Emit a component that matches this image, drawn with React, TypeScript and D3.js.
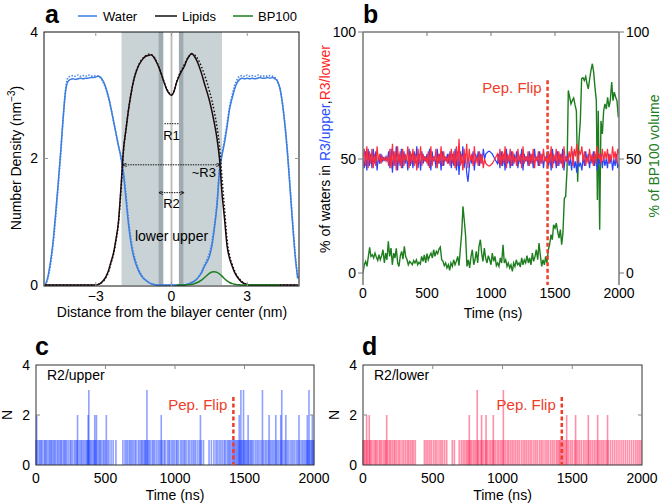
import React from 'react';
import * as d3 from 'd3';

const FONT = '"Liberation Sans", Arial, Helvetica, sans-serif';

// ---------------- Panel a: density profiles ----------------
const distanceNm = d3.range(-50, 51).map((i) => i / 10);
const waterSolid = [
  0.0, 0.12, 0.35, 0.65, 1.08, 1.55, 2.05, 2.6, 3.05, 3.22,
  3.25, 3.26, 3.25, 3.26, 3.27, 3.26, 3.27, 3.27, 3.28, 3.28,
  3.29, 3.3, 3.28, 3.22, 3.12, 2.98, 2.8, 2.6, 2.4, 2.2,
  2.02, 1.75, 1.35, 0.95, 0.65, 0.45, 0.32, 0.22, 0.15, 0.1,
  0.07, 0.04, 0.02, 0.01, 0,
  0, 0, 0, 0, 0, 0, 0, 0, 0, 0, 0,
  0.01, 0.02, 0.04, 0.06, 0.09, 0.14, 0.2, 0.29, 0.36, 0.45,
  0.62, 0.9, 1.25, 1.8, 2.05, 2.25, 2.5, 2.78, 2.95, 3.1,
  3.2, 3.25, 3.27, 3.26, 3.27, 3.26, 3.27, 3.26, 3.27, 3.28,
  3.27, 3.27, 3.28, 3.27, 3.28, 3.26, 3.22, 3.1, 2.85, 2.5,
  2.05, 1.5, 0.95, 0.45, 0.1,
];
const waterDotted = [
  0.0, 0.1, 0.3, 0.6, 1.02, 1.5, 2.0, 2.58, 3.08, 3.28,
  3.3, 3.31, 3.3, 3.32, 3.3, 3.31, 3.3, 3.32, 3.31, 3.3,
  3.31, 3.3, 3.27, 3.2, 3.1, 2.97, 2.8, 2.6, 2.4, 2.2,
  2.0, 1.78, 1.42, 1.02, 0.72, 0.5, 0.36, 0.25, 0.17, 0.11,
  0.07, 0.04, 0.02, 0.01, 0,
  0, 0, 0, 0, 0, 0, 0, 0, 0, 0, 0,
  0.01, 0.02, 0.04, 0.06, 0.1, 0.15, 0.22, 0.31, 0.4, 0.5,
  0.68, 0.95, 1.3, 1.82, 2.08, 2.3, 2.55, 2.82, 3.0, 3.15,
  3.25, 3.3, 3.31, 3.3, 3.32, 3.3, 3.31, 3.3, 3.32, 3.31,
  3.3, 3.31, 3.3, 3.31, 3.3, 3.28, 3.22, 3.1, 2.86, 2.52,
  2.08, 1.55, 1.0, 0.5, 0.12,
];
const lipidSolid = [
  0, 0, 0, 0, 0, 0, 0, 0, 0, 0, 0, 0, 0, 0, 0, 0, 0, 0, 0, 0, 0,
  0.01, 0.03, 0.07, 0.13, 0.22, 0.36, 0.5, 0.72, 1.0, 1.55,
  2.15, 2.47, 2.78, 3.03, 3.23, 3.37, 3.47, 3.54, 3.59, 3.62,
  3.63, 3.64, 3.6, 3.53, 3.44, 3.33, 3.21, 3.1, 3.03, 3.0,
  3.06, 3.2, 3.3, 3.38, 3.45, 3.55, 3.62, 3.66, 3.62, 3.55,
  3.45, 3.33, 3.19, 3.06, 2.92, 2.75, 2.55, 2.32, 2.0, 1.45,
  1.05, 0.62, 0.42, 0.3, 0.2, 0.13, 0.08, 0.04, 0.02, 0.01,
  0, 0, 0, 0, 0, 0, 0, 0, 0, 0, 0, 0, 0, 0, 0, 0, 0, 0, 0, 0,
];
const lipidDotted = [
  0, 0, 0, 0, 0, 0, 0, 0, 0, 0, 0, 0, 0, 0, 0, 0, 0, 0, 0, 0, 0,
  0.01, 0.03, 0.06, 0.12, 0.2, 0.34, 0.48, 0.7, 0.98, 1.5,
  2.12, 2.46, 2.77, 3.03, 3.24, 3.38, 3.48, 3.55, 3.6, 3.63,
  3.65, 3.64, 3.61, 3.54, 3.45, 3.34, 3.22, 3.11, 3.04, 3.01,
  3.07, 3.21, 3.32, 3.4, 3.48, 3.56, 3.62, 3.65, 3.64, 3.6,
  3.53, 3.44, 3.33, 3.21, 3.07, 2.92, 2.73, 2.5, 2.2, 1.7,
  1.2, 0.72, 0.47, 0.33, 0.22, 0.14, 0.09, 0.05, 0.02, 0.01,
  0, 0, 0, 0, 0, 0, 0, 0, 0, 0, 0, 0, 0, 0, 0, 0, 0, 0, 0, 0,
];
const bp100Density = [
  0, 0, 0, 0, 0, 0, 0, 0, 0, 0, 0, 0, 0, 0, 0, 0, 0, 0, 0, 0,
  0, 0, 0, 0, 0, 0, 0, 0, 0, 0, 0, 0, 0, 0, 0, 0, 0, 0, 0, 0,
  0, 0, 0, 0, 0, 0, 0, 0, 0, 0, 0, 0, 0, 0, 0, 0,
  0.003, 0.006, 0.012, 0.02, 0.035, 0.055, 0.08, 0.115, 0.15, 0.185,
  0.205, 0.21, 0.2, 0.175, 0.14, 0.1, 0.065, 0.04, 0.022, 0.012,
  0.006, 0.003,
  0, 0, 0, 0, 0, 0, 0, 0, 0, 0, 0, 0, 0, 0, 0, 0, 0, 0, 0, 0, 0, 0, 0,
];
const densityTicksX = [-3, 0, 3];
const densityTicksY = [0, 2, 4];

// ---------------- Panel b: time series ----------------
const r3Time = d3.range(0, 2001, 10);
const r3Upper = [
  50, 46, 53, 45, 54, 47, 52, 46, 54, 48,
  53, 45, 51, 48, 52, 49, 50.5, 49.5, 51, 49,
  53, 46, 54, 44, 53, 47, 55, 45, 52, 47,
  54, 46, 53, 48, 51, 45, 54, 47, 52, 46,
  53, 48, 55, 46, 52, 45, 53, 48, 51, 49,
  52, 47, 54, 45, 53, 49, 51, 46, 54, 48,
  52, 45, 53, 47, 51, 49, 52, 48, 53, 46,
  52, 47, 54, 45, 53, 43, 53, 48, 55, 46,
  52, 44, 40, 46, 51, 48, 53, 45, 52, 49,
  53, 47, 52, 48, 54, 50, 52, 52.5, 53, 53,
  52.5, 52, 51, 50, 49, 48, 52, 46, 53, 47,
  52, 45, 54, 48, 51, 46, 53, 47, 52, 49,
  53, 46, 51, 48, 54, 45, 52, 49, 51, 47,
  53, 48, 52, 46, 54, 49, 51, 47, 53, 48,
  52, 46, 51, 49, 53, 47, 52, 45, 54, 48,
  51, 46, 53, 47, 52, 48, 54, 45, 51, 49,
  52, 47, 50, 45, 53, 46, 49, 44, 52, 47,
  48, 45, 51, 47, 53, 49, 52, 46, 51, 48,
  53, 47, 52, 45, 50, 48, 52, 46, 51, 47,
  50, 46, 52, 48, 51, 45, 50, 47, 52, 46,
  48,
];
const r3Lower = [
  50, 54, 47, 55, 46, 53, 48, 54, 46, 52,
  47, 55, 49, 52, 48, 51, 49.5, 50.5, 49, 51,
  47, 54, 46, 56, 47, 53, 45, 55, 48, 53,
  46, 54, 47, 52, 49, 55, 46, 53, 48, 54,
  47, 52, 45, 54, 48, 55, 47, 52, 49, 51,
  48, 53, 46, 55, 47, 51, 49, 54, 46, 52,
  48, 55, 47, 53, 49, 51, 48, 52, 47, 54,
  48, 53, 46, 55, 47, 58, 47, 52, 45, 54,
  48, 56, 46, 54, 49, 52, 47, 55, 48, 51,
  47, 53, 48, 52, 46, 50, 48, 47.5, 47, 47,
  47.5, 48, 49, 50, 51, 52, 48, 54, 47, 53,
  48, 55, 46, 52, 49, 54, 47, 53, 48, 51,
  47, 54, 49, 52, 46, 55, 48, 51, 49, 53,
  47, 52, 48, 54, 46, 51, 49, 53, 47, 52,
  48, 54, 49, 51, 47, 53, 48, 55, 46, 52,
  49, 54, 47, 53, 48, 52, 46, 55, 49, 51,
  48, 53, 50, 55, 47, 54, 51, 56, 48, 53,
  52, 55, 49, 53, 47, 51, 48, 54, 49, 52,
  47, 53, 48, 55, 50, 52, 48, 54, 49, 53,
  50, 54, 48, 52, 49, 55, 50, 53, 48, 54,
  52,
];
const bpTime = [
  0, 10, 21, 31, 42, 52, 62, 73, 83, 94, 104, 115, 125, 135, 146, 156, 167, 177, 187, 198,
  208, 219, 229, 240, 250, 260, 271, 281, 292, 302, 312, 323, 333, 344, 354, 365, 375, 385, 396, 406,
  417, 427, 437, 448, 458, 469, 479, 490, 500, 510, 521, 531, 542, 552, 562, 573, 583, 594, 604, 615,
  625, 635, 646, 656, 667, 677, 687, 698, 708, 719, 729, 740, 750, 760, 771, 781, 792, 802, 812, 823,
  833, 844, 854, 865, 875, 885, 896, 906, 917, 927, 937, 948, 958, 969, 979, 990, 1000, 1010, 1021, 1031,
  1042, 1052, 1062, 1073, 1083, 1094, 1104, 1115, 1125, 1135, 1146, 1156, 1167, 1177, 1187, 1198, 1208, 1219, 1229, 1240,
  1250, 1260, 1271, 1281, 1292, 1302, 1312, 1323, 1333, 1344, 1354, 1365, 1375, 1385, 1396, 1406, 1417, 1427, 1437, 1448,
  1458, 1469, 1479, 1489, 1500, 1510, 1521, 1531, 1542, 1552, 1562, 1573, 1583, 1594, 1604, 1615, 1625, 1635, 1646, 1656,
  1667, 1677, 1687, 1698, 1708, 1719, 1729, 1740, 1750, 1760, 1771, 1781, 1792, 1802, 1812, 1823, 1831, 1838, 1849, 1859,
  1870, 1880, 1890, 1901, 1911, 1922, 1932, 1943, 1953, 1963, 1974, 1984, 1995,
];
const bpVolume = [
  0, 3.6, 5.1, 2.9, 7.3, 11.2, 7.3, 8.0, 6.6, 8.7, 7.0, 5.5, 8.0, 5.8, 7.6, 10.2, 4.4, 8.7, 5.8, 13.9,
  7.3, 10.9, 3.6, 8.7, 6.6, 10.8, 4.4, 2.9, 7.6, 9.5, 6.1, 11.7, 7.3, 5.8, 3.6, 5.1, 4.4, 3.6, 5.5, 4.4,
  5.8, 3.6, 4.7, 3.9, 7.3, 5.1, 8.0, 4.4, 8.5, 5.8, 7.6, 8.7, 6.6, 10.2, 7.3, 9.5, 8.5, 10.5, 11.4, 5.8,
  5.1, 3.2, 4.4, 2.2, 3.6, 1.2, 4.4, 2.9, 5.8, 3.6, 5.1, 7.3, 3.2, 10.2, 17.5, 29.2, 22.6, 16.0, 2.9, 5.8,
  2.2, 7.3, 10.2, 3.6, 5.8, 9.5, 4.4, 11.7, 14.6, 8.7, 5.1, 10.9, 6.6, 4.4, 7.6, 5.8, 3.6, 8.7, 5.1, 7.3,
  3.2, 4.4, 2.9, 6.6, 4.4, 12.4, 4.4, 5.8, 2.9, 4.4, 2.2, 3.6, 0.7, 4.4, 2.9, 5.8, 3.6, 4.4, 2.6, 6.6,
  3.6, 5.8, 4.4, 7.6, 4.4, 6.6, 3.6, 8.7, 5.1, 7.3, 10.2, 5.8, 13.1, 8.0, 2.9, 5.8, 3.6, 7.3, 4.4, 10.2,
  12.4, 16.8, 14.6, 21.1, 19.7, 21.9, 18.2, 15.3, 19.0, 12.4, 17.5, 32.8, 33.5, 45.2, 77, 74.3, 71.7, 73, 74, 71.4,
  69, 40, 57.2, 65.1, 81.6, 82, 80.9, 82.5, 79.6, 77.6, 81.6, 84.9, 87.5, 84.2, 78.3, 73, 32, 69, 19, 65,
  59.9, 69, 71.7, 69.7, 74.3, 70.4, 73, 80.3, 73, 76.3, 74.3, 73, 66.4,
];
const percentTicks = [0, 50, 100];
const timeTicks = [0, 500, 1000, 1500, 2000];

// ---------------- Panels c, d: water counts in R2 ----------------
const upperOnce = [
  0, 10, 22, 30, 38, 45, 58, 65, 72, 80, 92, 100, 108, 115, 125, 133, 140, 152, 160, 170,
  178, 185, 197, 205, 212, 220, 232, 245, 252, 262, 275, 285, 292, 300, 312, 322, 330, 340, 350, 360,
  368, 372, 378, 385, 392, 400, 410, 418, 425, 433, 445, 455, 462, 470, 482, 490, 500, 515, 525, 540,
  555, 575, 625, 640, 650, 660, 672, 680, 690, 700, 712, 720, 735, 745, 755, 762, 770, 780, 785, 790,
  800, 808, 815, 825, 838, 845, 855, 868, 880, 890, 900, 910, 922, 930, 945, 955, 962, 975, 985, 995,
  1008, 1015, 1025, 1040, 1050, 1062, 1070, 1080, 1095, 1105, 1118, 1130, 1140, 1150, 1165, 1178, 1190, 1205, 1245, 1262,
  1280, 1295, 1305, 1318, 1330, 1342, 1355, 1362, 1375, 1385, 1392, 1400, 1410, 1418, 1425, 1432, 1440, 1448, 1455, 1462,
  1468, 1475, 1482, 1490, 1498, 1505, 1512, 1520, 1530, 1540, 1548, 1555, 1565, 1578, 1590, 1600, 1612, 1625, 1638, 1650,
  1660, 1672, 1685, 1695, 1705, 1715, 1728, 1738, 1748, 1760, 1770, 1782, 1792, 1805, 1815, 1828, 1840, 1850, 1862, 1875,
  1885, 1898, 1910, 1920, 1930, 1940, 1948, 1955, 1962, 1970, 1978, 1985, 1992, 1998,
];
const upperTwice = [5, 299, 375, 423, 435, 506, 901, 1183, 1462, 1526, 1677, 1725, 1761, 1797, 1892, 1952, 1988];
const upperThrice = [380, 798, 1474, 1493, 1629, 1768, 1964];

const lowerOnce = [
  0, 8, 15, 25, 35, 48, 55, 65, 78, 88, 95, 105, 118, 125, 135, 148, 158, 165, 178, 190,
  198, 210, 222, 230, 242, 255, 265, 280, 292, 305, 318, 328, 340, 352, 362, 375, 440, 452, 465, 478,
  490, 505, 518, 530, 545, 558, 570, 585, 600, 640, 655, 690, 705, 718, 730, 742, 750, 760, 770, 778,
  790, 800, 810, 822, 830, 842, 852, 862, 875, 885, 895, 908, 918, 930, 940, 952, 965, 975, 988, 998,
  1010, 1022, 1035, 1045, 1058, 1070, 1082, 1095, 1108, 1120, 1135, 1148, 1160, 1172, 1185, 1198, 1210, 1225, 1238, 1250,
  1265, 1278, 1290, 1305, 1318, 1330, 1345, 1358, 1370, 1385, 1395, 1405, 1412, 1420, 1430, 1440, 1450, 1462, 1475, 1488,
  1500, 1515, 1528, 1540, 1552, 1565, 1580, 1592, 1605, 1620, 1632, 1645, 1658, 1670, 1685, 1698, 1710, 1722, 1735, 1748,
  1760, 1775, 1790, 1805, 1820, 1835, 1850, 1865, 1880, 1895, 1910, 1925, 1940, 1955, 1968, 1980, 1992,
];
const lowerTwice = [26, 45, 170, 762, 850, 882, 934, 1460, 1524, 1615, 1682, 1753];
const lowerThrice = [819, 1006];
const countTicks = [0, 2, 4];

const flipTimeB = 1442;
const flipTimeC = 1420;
const flipTimeD = 1425;

const BLUE_W = '#3b7de0';
const GREEN = '#1e7d1e';
const FLIP = '#ee3d2a';

function BarsPanel({ x0, x1, once, twice, thrice, color, label, letter, flip }: any) {
  const x = d3.scaleLinear().domain([0, 2000]).range([x0, x1]);
  const y = d3.scaleLinear().domain([0, 4]).range([465, 365]);
  const bars: [number, number][] = [
    ...once.map((t: number) => [t, 1] as [number, number]),
    ...twice.map((t: number) => [t, 2] as [number, number]),
    ...thrice.map((t: number) => [t, 3] as [number, number]),
  ];
  return (
    <g>
      {bars.map(([t, h], i) => (
        <rect key={i} x={x(t) - 0.8} width={1.6} y={y(h)} height={y(0) - y(h)} fill={color} opacity={0.5} />
      ))}
      <rect x={x0} y={365} width={x1 - x0} height={100} fill="none" stroke="#333" strokeWidth={1} />
      {timeTicks.slice(1, 4).map((t) => (
        <line key={'tt' + t} x1={x(t)} x2={x(t)} y1={365} y2={369} stroke="#888" />
      ))}
      {countTicks.map((c) => (
        <g key={'c' + c}>
          {c === 2 && <line x1={x0} x2={x0 + 4} y1={y(c)} y2={y(c)} stroke="#888" />}
          {c === 2 && <line x1={x1 - 4} x2={x1} y1={y(c)} y2={y(c)} stroke="#888" />}
          <text x={x0 - 6} y={y(c)} dy="0.35em" textAnchor="end" fontSize={14}>{c}</text>
        </g>
      ))}
      {timeTicks.map((t) => (
        <text key={'tl' + t} x={x(t)} y={483} textAnchor="middle" fontSize={14}>{t}</text>
      ))}
      <text x={(x0 + x1) / 2} y={500} textAnchor="middle" fontSize={14}>Time (ns)</text>
      <text transform={`translate(${x0 - 24},415) rotate(-90)`} textAnchor="middle" fontSize={14}>N</text>
      <text x={x0 + 11} y={380} fontSize={14}>{label}</text>
      <text x={x0 - 1} y={355} fontSize={25} fontWeight="bold">{letter}</text>
      <line x1={x(flip)} x2={x(flip)} y1={y(2.72)} y2={y(0)} stroke={FLIP} strokeWidth={2.5} strokeDasharray="4,2.5" />
      <text x={x(flip) - 6} y={y(2.2)} textAnchor="end" fontSize={15} fill={FLIP}>Pep. Flip</text>
    </g>
  );
}

export default function App() {
  // Panel a scales
  const ax = d3.scaleLinear().domain([-5.05, 5.05]).range([44, 299]);
  const ay = d3.scaleLinear().domain([0, 4]).range([285, 32]);
  const densityLine = (vals: number[], from = -6, to = 6) =>
    d3
      .line<number>()
      .defined((_, i) => distanceNm[i] >= from && distanceNm[i] <= to)
      .x((_, i) => ax(distanceNm[i]))
      .y((v) => ay(v))
      .curve(d3.curveMonotoneX)(vals) || '';

  // Panel b scales
  const bx = d3.scaleLinear().domain([0, 2000]).range([363, 619]);
  const by = d3.scaleLinear().domain([0, 50, 100]).range([273, 159, 32]);
  const seriesLine = (ts: number[], vs: number[]) =>
    d3
      .line<number>()
      .x((_, i) => bx(ts[i]))
      .y((v) => by(v))(vs) || '';

  return (
    <svg width={661} height={504} style={{ position: 'absolute', left: 0, top: 0, background: '#fff' }} fontFamily={FONT}>
      <defs>
        <clipPath id="clipA"><rect x={44} y={32} width={255} height={254} /></clipPath>
        <clipPath id="clipB"><rect x={363} y={30} width={256} height={256} /></clipPath>
        <marker id="arrL" viewBox="0 0 6 6" refX={6} refY={3} markerWidth={4} markerHeight={4} orient="auto-start-reverse">
          <path d="M0,0 L6,3 L0,6" fill="none" stroke="#111" strokeWidth={1.2} />
        </marker>
      </defs>

      {/* ---------- Panel a ---------- */}
      <g>
        <rect x={ax(-1.98)} y={32} width={ax(2.0) - ax(-1.98)} height={253} fill="#c9d3d6" />
        <rect x={ax(-0.51)} y={32} width={ax(-0.32) - ax(-0.51)} height={253} fill="#9eabb0" />
        <rect x={ax(0.29)} y={32} width={ax(0.47) - ax(0.29)} height={253} fill="#9eabb0" />
        <rect x={ax(-0.32)} y={32} width={ax(0.29) - ax(-0.32)} height={253} fill="#ffffff" />
        <rect x={ax(0) - 1.5} y={32} width={3} height={253} fill="#e2e2e2" />
        <line x1={ax(0)} x2={ax(0)} y1={32} y2={285} stroke="#bdbdbd" strokeWidth={1} />
        <g clipPath="url(#clipA)" fill="none">
          <path d={densityLine(waterDotted)} stroke={BLUE_W} strokeWidth={1.6} strokeDasharray="1.5,1.5" opacity={0.9} />
          <path d={densityLine(waterSolid)} stroke={BLUE_W} strokeWidth={1.5} />
          <path d={densityLine(lipidDotted)} stroke="#111" strokeWidth={1.5} strokeDasharray="1.5,2" />
          <path d={densityLine(lipidSolid)} stroke="#1c0a0a" strokeWidth={1.5} />
          <path d={densityLine(bp100Density, 0.2, 4.3)} stroke={GREEN} strokeWidth={1.5} />
        </g>
        {/* annotations */}
        <line x1={ax(-0.28)} x2={ax(0.28)} y1={ay(2.55)} y2={ay(2.55)} stroke="#111" strokeWidth={1} strokeDasharray="1.5,1" />
        <text x={ax(0)} y={ay(2.3)} textAnchor="middle" fontSize={13}>R1</text>
        <line x1={ax(-1.93)} x2={ax(1.93)} y1={ay(1.9)} y2={ay(1.9)} stroke="#111" strokeWidth={1} strokeDasharray="1.5,1" markerStart="url(#arrL)" markerEnd="url(#arrL)" />
        <text x={ax(1.28)} y={ay(1.7)} textAnchor="middle" fontSize={13}>~R3</text>
        <line x1={ax(-0.5)} x2={ax(0.5)} y1={ay(1.46)} y2={ay(1.46)} stroke="#111" strokeWidth={1} strokeDasharray="1.5,1" markerStart="url(#arrL)" markerEnd="url(#arrL)" />
        <text x={ax(0)} y={ay(1.22)} textAnchor="middle" fontSize={13}>R2</text>
        <text x={ax(0)} y={ay(0.7)} textAnchor="middle" fontSize={14}>lower upper</text>
        {/* frame and ticks */}
        <rect x={44} y={32} width={255} height={254} fill="none" stroke="#111" strokeWidth={1} />
        {densityTicksX.map((t) => (
          <g key={'ax' + t}>
            <line x1={ax(t)} x2={ax(t)} y1={32} y2={36} stroke="#999" />
            <line x1={ax(t)} x2={ax(t)} y1={282} y2={286} stroke="#999" />
            <text x={ax(t)} y={301} textAnchor="middle" fontSize={14}>{t === 0 ? '0' : t < 0 ? `−${-t}` : `${t}`}</text>
          </g>
        ))}
        {densityTicksY.map((t) => (
          <g key={'ay' + t}>
            {t === 2 && <line x1={44} x2={48} y1={ay(t)} y2={ay(t)} stroke="#999" />}
            {t === 2 && <line x1={295} x2={299} y1={ay(t)} y2={ay(t)} stroke="#999" />}
            <text x={38} y={ay(t)} dy="0.35em" textAnchor="end" fontSize={14}>{t}</text>
          </g>
        ))}
        <text x={172} y={317} textAnchor="middle" fontSize={14}>Distance from the bilayer center (nm)</text>
        <text transform="translate(21,158) rotate(-90)" textAnchor="middle" fontSize={14}>
          Number Density (nm<tspan fontSize={10} dy={-6}>−3</tspan><tspan dy={6}>)</tspan>
        </text>
        {/* legend */}
        <text x={45} y={23} fontSize={25} fontWeight="bold">a</text>
        <line x1={78} x2={97} y1={16} y2={16} stroke={BLUE_W} strokeWidth={1.5} />
        <text x={103} y={21} fontSize={13}>Water</text>
        <line x1={155} x2={177} y1={16} y2={16} stroke="#111" strokeWidth={1.5} />
        <text x={182} y={21} fontSize={13}>Lipids</text>
        <line x1={233} x2={253} y1={16} y2={16} stroke={GREEN} strokeWidth={1.5} />
        <text x={258} y={21} fontSize={13}>BP100</text>
      </g>

      {/* ---------- Panel b ---------- */}
      <g>
        <g clipPath="url(#clipB)" fill="none">
          <path d={seriesLine(bpTime, bpVolume)} stroke={GREEN} strokeWidth={1.4} />
          <path d={seriesLine(r3Time, r3Upper)} stroke="#2444ff" strokeWidth={1.2} />
          <path d={seriesLine(r3Time, r3Lower)} stroke="#ff2a3a" strokeWidth={1.2} />
        </g>
        <line x1={363} x2={619} y1={32} y2={32} stroke="#777" strokeWidth={1.5} />
        <line x1={363} x2={363} y1={32} y2={285} stroke="#777" strokeWidth={1.5} />
        <line x1={619} x2={619} y1={32} y2={285} stroke="#777" strokeWidth={1.5} />
        {timeTicks.slice(1, 4).map((t) => (
          <line key={'bt' + t} x1={bx(t)} x2={bx(t)} y1={32} y2={36} stroke="#777" />
        ))}
        {timeTicks.map((t) => (
          <text key={'btl' + t} x={bx(t)} y={298} textAnchor="middle" fontSize={14}>{t}</text>
        ))}
        {percentTicks.map((p) => (
          <g key={'bp' + p}>
            <line x1={358} x2={363} y1={by(p)} y2={by(p)} stroke="#777" />
            <line x1={619} x2={624} y1={by(p)} y2={by(p)} stroke="#777" />
            <text x={356} y={by(p)} dy="0.35em" textAnchor="end" fontSize={14}>{p}</text>
            <text x={626} y={by(p)} dy="0.35em" textAnchor="start" fontSize={14}>{p}</text>
          </g>
        ))}
        <text x={493} y={318} textAnchor="middle" fontSize={14}>Time (ns)</text>
        <text transform="translate(330,149) rotate(-90)" textAnchor="middle" fontSize={14}>
          % of waters in <tspan fill="#2a4dff">R3/upper</tspan>,<tspan fill="#ff1f1f">R3/lower</tspan>
        </text>
        <text transform="translate(659,156) rotate(-90)" textAnchor="middle" fontSize={14} fill={GREEN}>% of BP100 volume</text>
        <text x={363} y={23} fontSize={25} fontWeight="bold">b</text>
        <line x1={bx(flipTimeB)} x2={bx(flipTimeB)} y1={by(81)} y2={285} stroke={FLIP} strokeWidth={2.5} strokeDasharray="4,2.5" />
        <text x={bx(flipTimeB) - 6} y={93} textAnchor="end" fontSize={15} fill={FLIP}>Pep. Flip</text>
      </g>

      {/* ---------- Panels c, d ---------- */}
      <BarsPanel x0={36} x1={314} once={upperOnce} twice={upperTwice} thrice={upperThrice} color="#2244ff" label="R2/upper" letter="c" flip={flipTimeC} />
      <BarsPanel x0={363} x1={642} once={lowerOnce} twice={lowerTwice} thrice={lowerThrice} color="#ff2255" label="R2/lower" letter="d" flip={flipTimeD} />
    </svg>
  );
}
